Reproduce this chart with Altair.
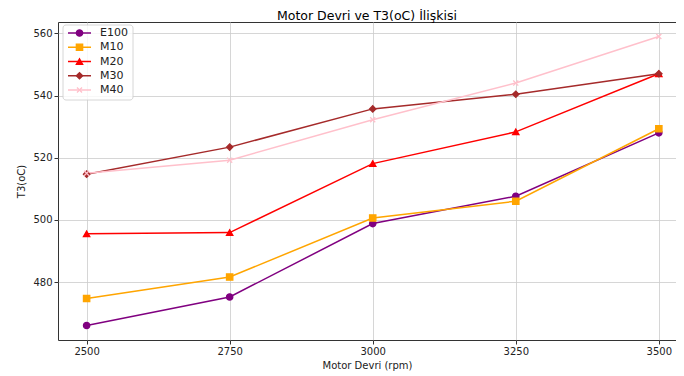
import altair as alt
import pandas as pd

rpm = [2500, 2750, 3000, 3250, 3500]
series_names = ["E100", "M10", "M20", "M30", "M40"]
E100 = [466.0, 475.2, 498.8, 507.6, 528.0]
M10 = [474.7, 481.6, 500.6, 506.0, 529.3]
M20 = [495.5, 495.9, 518.1, 528.3, 547.0]
M30 = [514.7, 523.4, 535.7, 540.4, 547.0]
M40 = [515.0, 519.2, 532.2, 544.0, 559.0]
colors = ["purple", "orange", "red", "brown", "pink"]
shapes = ["circle", "square", "triangle-up", "diamond",
          "M-0.8,-0.8L0.8,0.8M-0.8,0.8L0.8,-0.8"]

rows = []
for name, vals in zip(series_names, [E100, M10, M20, M30, M40]):
    for r, v in zip(rpm, vals):
        rows.append({"rpm": r, "T3": v, "series": name})
df = pd.DataFrame(rows)
leg_df = pd.DataFrame({"series": series_names})

FONT = "DejaVu Sans"
x = alt.X("rpm:Q", title="Motor Devri (rpm)",
          scale=alt.Scale(domain=[2450, 3530], nice=False, zero=False),
          axis=alt.Axis(values=rpm, format="d", grid=True))
y = alt.Y("T3:Q", title="T3(oC)",
          scale=alt.Scale(domain=[461.35, 563.65], nice=False, zero=False),
          axis=alt.Axis(values=[480, 500, 520, 540, 560], grid=True, titlePadding=6))
color_scale = alt.Scale(domain=series_names, range=colors)
shape_scale = alt.Scale(domain=series_names, range=shapes)

lines = alt.Chart(df).mark_line(strokeWidth=1.5).encode(
    x=x, y=y,
    color=alt.Color("series:N", scale=color_scale, legend=None),
    order="rpm:Q",
)
points = alt.Chart(df).mark_point(filled=True, size=40, strokeWidth=1.3, opacity=1).encode(
    x=x, y=y,
    color=alt.Color("series:N", scale=color_scale, legend=None),
    shape=alt.Shape("series:N", scale=shape_scale, legend=None),
    stroke=alt.Stroke("series:N", scale=color_scale, legend=None),
)
data_layer = alt.layer(lines, points)

# legend drawn inside the plot (top-left), positions from a point scale
ly = alt.Y("series:N", scale=alt.Scale(type="point", domain=series_names,
                                       range=[11, 68], padding=0), axis=None)
box = alt.Chart(pd.DataFrame({"a": [0]})).mark_rect(
    fill="white", stroke="#d0d0d0", strokeWidth=1, cornerRadius=3, opacity=0.85
).encode(x=alt.value(5), x2=alt.value(75), y=alt.value(3), y2=alt.value(78))
leg_lines = alt.Chart(leg_df).mark_rule(strokeWidth=1.5).encode(
    x=alt.value(10), x2=alt.value(33), y=ly,
    color=alt.Color("series:N", scale=color_scale, legend=None),
)
leg_pts = alt.Chart(leg_df).mark_point(filled=True, size=40, strokeWidth=1.3, opacity=1).encode(
    x=alt.value(21.5), y=ly,
    color=alt.Color("series:N", scale=color_scale, legend=None),
    shape=alt.Shape("series:N", scale=shape_scale, legend=None),
    stroke=alt.Stroke("series:N", scale=color_scale, legend=None),
)
leg_text = alt.Chart(leg_df).mark_text(
    align="left", baseline="middle", font=FONT, fontSize=11, color="#222"
).encode(x=alt.value(42), y=ly, text="series:N")
legend_layer = alt.layer(box, leg_lines, leg_pts, leg_text)

chart = alt.layer(data_layer, legend_layer).resolve_scale(y="independent").properties(
    width=618, height=318,
    title=alt.Title("Motor Devri ve T3(oC) İlişkisi", font=FONT, fontSize=12.5,
                    fontWeight="normal", color="black", offset=0),
    autosize=alt.AutoSizeParams(type="none"),
    padding={"left": 50, "top": 14, "right": 0, "bottom": 36},
).configure_axis(
    labelFont=FONT, labelFontSize=10, labelColor="#222",
    titleFont=FONT, titleFontSize=10, titleFontWeight="normal", titleColor="#222",
    gridColor="#cccccc", gridWidth=0.8, domain=False,
    tickColor="#333", tickSize=4,
).configure_view(stroke="#333", strokeWidth=1)

chart.save("out.html", embed_options={"renderer": "svg", "actions": False})
